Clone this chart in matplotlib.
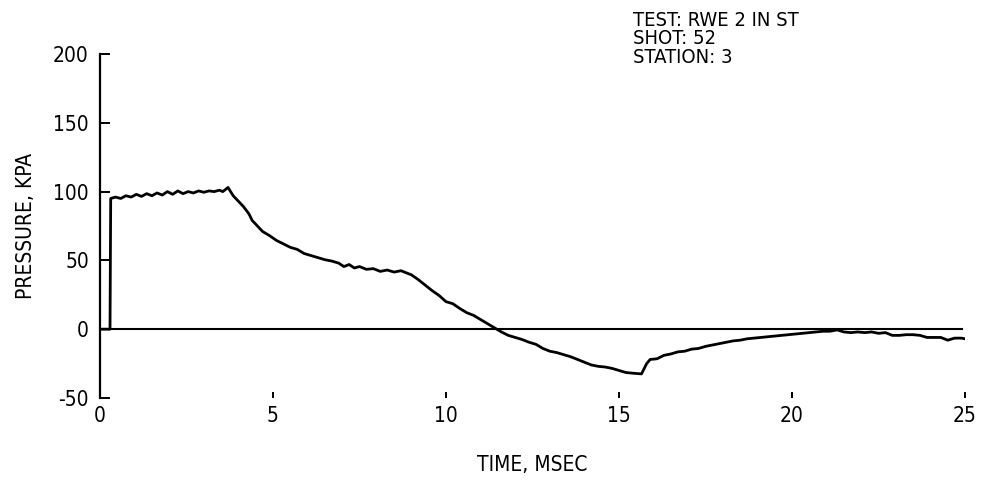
import matplotlib
matplotlib.use('Agg')
import matplotlib.pyplot as plt

# pressure trace
time_ms = [0.0, 0.29, 0.31, 0.45, 0.6, 0.75, 0.9, 1.05, 1.2, 1.35, 1.5, 1.65, 1.8, 1.95,
           2.1, 2.25, 2.4, 2.55, 2.7, 2.85, 3.0, 3.15, 3.3, 3.45, 3.55, 3.7,
           3.85, 4.0, 4.15, 4.3, 4.4, 4.55, 4.7, 4.9, 5.1, 5.3, 5.5, 5.7, 5.9, 6.1,
           6.3, 6.5, 6.7, 6.9, 7.05, 7.2, 7.35, 7.5, 7.7, 7.9, 8.1, 8.3, 8.5, 8.7,
           8.85, 9.0, 9.2, 9.4, 9.6, 9.8, 10.0, 10.2, 10.4, 10.6, 10.8, 11.0, 11.2,
           11.4, 11.6, 11.8, 12.0, 12.2, 12.4, 12.6, 12.8, 13.0, 13.2, 13.4, 13.6,
           13.8, 14.0, 14.2, 14.4, 14.6, 14.8, 15.0, 15.2, 15.4, 15.65, 15.8, 15.9,
           16.1, 16.3, 16.5, 16.7, 16.9, 17.1, 17.3, 17.5, 17.7, 17.9, 18.1, 18.3,
           18.5, 18.7, 18.9, 19.1, 19.3, 19.5, 19.7, 19.9, 20.1, 20.3, 20.5, 20.7,
           20.9, 21.1, 21.3, 21.5, 21.7, 21.9, 22.1, 22.3, 22.5, 22.7, 22.9, 23.1,
           23.3, 23.5, 23.7, 23.9, 24.1, 24.3, 24.5, 24.7, 24.9, 25.0]
pressure_kpa = [0, 0, 95, 96, 95, 97, 96, 98, 96.5, 98.5, 97, 99, 97.5, 100,
                98, 100.5, 98.5, 100, 99, 100.5, 99.5, 100.5, 100, 101, 100, 103,
                97, 93, 89, 84, 79, 75, 71, 68, 64.5, 62, 59.5, 58, 55, 53.5,
                52, 50.5, 49.5, 48, 45.5, 47, 44.5, 45.5, 43.5, 44, 42, 43, 41.5, 42.5,
                41, 39.5, 36, 32, 28, 24.5, 20, 18.5, 15, 12, 10, 7, 4,
                1, -2, -4.5, -6, -7.5, -9.5, -11, -14, -16, -17, -18.5, -20,
                -22, -24, -26, -27, -27.5, -28.5, -30, -31.5, -32, -32.5, -25, -22,
                -21.5, -19, -18, -16.5, -16, -14.5, -14, -12.5, -11.5, -10.5, -9.5, -8.5,
                -8, -7, -6.5, -6, -5.5, -5, -4.5, -4, -3.5, -3, -2.5, -2,
                -1.5, -1.5, -0.5, -2, -2.5, -2, -2.5, -2, -3, -2.5, -4.5, -4.5,
                -4, -4, -4.5, -6, -6, -6, -8, -6.5, -6.5, -7]

x_ticks = [0, 5, 10, 15, 20, 25]
x_labels = ['0', '5', '10', '15', '20', '25']
y_ticks = [-50, 0, 50, 100, 150, 200]
y_labels = ['-50', '0', '50', '100', '150', '200']
header = ['TEST: RWE 2 IN ST', 'SHOT: 52', 'STATION: 3']

plt.rcParams['font.family'] = ['DejaVu Sans']
plt.rcParams['font.stretch'] = 'condensed'
plt.rcParams['font.size'] = 15

fig = plt.figure(figsize=(9.85, 4.87), dpi=100)
ax = fig.add_axes([0.1015, 0.1828, 0.8782, 0.7063])

ax.axhline(0, xmin=0, xmax=0.996, color='black', lw=1.5)
ax.plot(time_ms, pressure_kpa, color='black', lw=2.0)

ax.set_xlim(0, 25)
ax.set_ylim(-50, 200)
for side in ['top', 'right', 'bottom']:
    ax.spines[side].set_visible(False)
ax.spines['left'].set_linewidth(1.6)

ax.set_xticks(x_ticks)
ax.set_xticklabels(x_labels)
ax.set_yticks(y_ticks)
ax.set_yticklabels(y_labels)
ax.tick_params(axis='y', direction='in', length=7, width=1.4, pad=8, labelsize=15)
ax.tick_params(axis='x', direction='in', length=4, width=1.4, pad=6, labelsize=15)

ax.set_xlabel('TIME, MSEC', fontsize=15, labelpad=21)
ax.set_ylabel('PRESSURE, KPA', fontsize=15, labelpad=12)

for i, line in enumerate(header):
    fig.text(0.643, 0.978 - i * 0.0385, line, fontsize=14.5, va='top', ha='left')

fig.savefig('out.png', dpi=100)
